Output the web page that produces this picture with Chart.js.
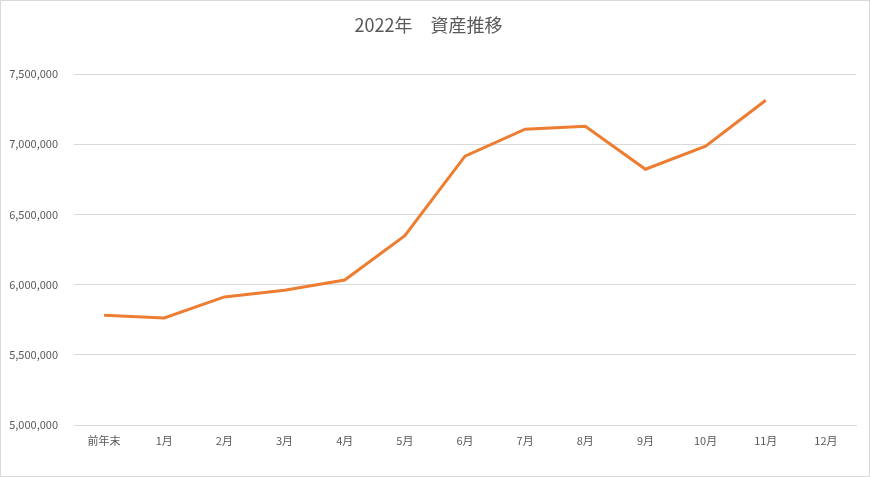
<!DOCTYPE html>
<html>
<head>
<meta charset="utf-8">
<script src="https://cdn.jsdelivr.net/npm/chart.js@4"></script>
<style>
  html, body { margin: 0; padding: 0; background: #fff; }
  #wrap { width: 870px; height: 477px; box-sizing: border-box; border: 1px solid #d9d9d9; }
</style>
</head>
<body>
<div id="wrap"><canvas id="graph_1"></canvas></div>
<script>
const chart_title = '2022年　資産推移';
const month_labels = ['前年末', '1月', '2月', '3月', '4月', '5月', '6月', '7月', '8月', '9月', '10月', '11月', '12月'];
const asset_values = [5781000, 5763000, 5912000, 5960000, 6033000, 6349000, 6915000, 7107000, 7128000, 6822000, 6986000, 7313000, null];
const y_ticks = [5000000, 5500000, 6000000, 6500000, 7000000, 7500000];

const text_color = '#595959';
const grid_color = '#d9d9d9';
const font_family = "'Noto Sans CJK JP', 'Noto Sans', sans-serif";

const context = document.getElementById('graph_1').getContext('2d');
const graph = new Chart(context, {
  type: 'line',
  data: {
    labels: month_labels,
    datasets: [{
      data: asset_values,
      borderColor: '#ED7D31',
      borderWidth: 3,
      pointRadius: 0,
      tension: 0,
      spanGaps: false
    }]
  },
  options: {
    responsive: true,
    maintainAspectRatio: false,
    animation: false,
    layout: { padding: { top: 0, right: 13, bottom: 0, left: 0 } },
    plugins: {
      legend: { display: false },
      tooltip: { enabled: false },
      title: {
        display: true,
        text: chart_title,
        color: text_color,
        font: { family: font_family, size: 18, weight: 'normal' },
        padding: { top: 13.2, bottom: 38.2 }
      }
    },
    scales: {
      x: {
        offset: true,
        grid: { display: false, drawTicks: false },
        border: { display: true, color: grid_color, width: 1 },
        ticks: { color: text_color, font: { family: font_family, size: 11 }, padding: 9, maxRotation: 0 },
        afterFit: scale => { scale.height = 51; }
      },
      y: {
        min: 5000000,
        max: 7500000,
        afterBuildTicks: scale => { scale.ticks = y_ticks.map(v => ({ value: v })); },
        grid: { color: grid_color, drawTicks: false },
        border: { display: false },
        ticks: {
          color: text_color,
          font: { family: font_family, size: 11 },
          padding: 16,
          callback: value => value.toLocaleString('en-US')
        },
        afterFit: scale => { scale.width = 73; }
      }
    }
  }
});
</script>
</body>
</html>
